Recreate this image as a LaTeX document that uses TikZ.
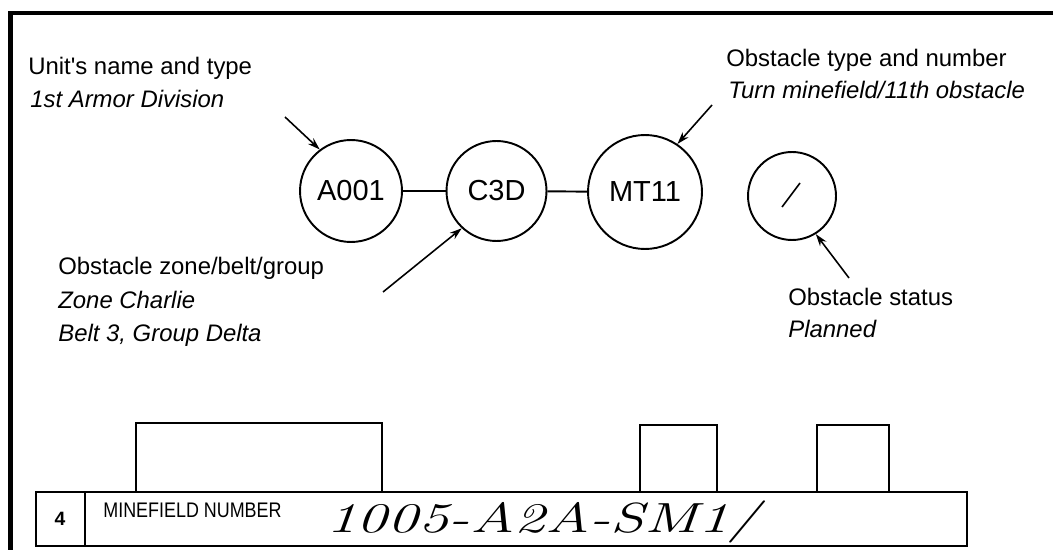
\documentclass[tikz,border=0pt]{standalone}
\usepackage{fontspec}
\usepackage{graphicx}
\newfontfamily\labelfont{Liberation Sans}
\usetikzlibrary{arrows.meta}

\begin{document}
\begin{tikzpicture}[
    x=0.02cm, y=-0.02cm,
    ring/.style={draw, circle, line width=1.1pt, inner sep=0pt,
                 font=\labelfont\fontsize{16.5}{18}\selectfont},
    link/.style={line width=1.1pt},
    pointer/.style={line width=0.9pt, -{Stealth[length=7pt, width=4.5pt]}},
    caption/.style={anchor=base west, inner sep=0pt,
                    font=\labelfont\fontsize{13.6}{16}\selectfont},
    capsub/.style={caption, font=\labelfont\itshape\fontsize{13.6}{16}\selectfont},
    formline/.style={line width=1.3pt},
]

\useasboundingbox (0,0) rectangle (1053,550);

% ── Frame ───────────────────────────────────────────────────
\draw[line width=2.6pt] (10.5,550) |- (1053,13);

% ── Symbol circles ──────────────────────────────────────────
\node[ring, minimum size=2.04cm] (unit)   at (351,191)   {A001};
\node[ring, minimum size=2.0cm]  (zone)   at (496.5,191) {C3D};
\node[ring, minimum size=2.28cm] (obst)   at (645,192)   {MT11};
\node[ring, minimum size=1.76cm] (status) at (792,196)   {};

\draw[link] (unit) -- (zone);
\draw[link] (zone) -- (obst);

% status mark: planned
\draw[line width=0.9pt] ([shift={(-10,11)}]status.center)
    -- ([shift={(8,-13)}]status.center);

% ── Pointers ────────────────────────────────────────────────
\coordinate (unittail)   at (285,117);
\coordinate (zonetail)   at (383,292);
\coordinate (obsttail)   at (712,105);
\coordinate (statustail) at (849,278);

\draw[pointer] (unittail)   -- (unit.127);
\draw[pointer] (zonetail)   -- (zone.227);
\draw[pointer] (obsttail)   -- (obst.56);
\draw[pointer] (statustail) -- (status.302);

% ── Captions ────────────────────────────────────────────────
\node[caption] (unitlbl)   at (28,75)  {Unit's name and type};
\node[capsub]  (unitval)   at (30,108) {1st Armor Division};

\node[caption] (obstlbl)   at (726,67) {Obstacle type and number};
\node[capsub]  (obstval)   at (728,99) {Turn minefield/11th obstacle};

\node[caption] (zonelbl)   at (58,275) {Obstacle zone/belt/group};
\node[capsub]  (zoneval)   at (58,308) {Zone Charlie};
\node[capsub]  (zonegrp)   at (58,341) {Belt 3, Group Delta};

\node[caption] (statuslbl) at (788,305) {Obstacle status};
\node[capsub]  (statusval) at (788,337) {Planned};

% ── Minefield record strip ──────────────────────────────────
\draw[formline] (136,492) |- (382,423) -- (382,492);
\draw[formline] (640,492) |- (717,425) -- (717,492);
\draw[formline] (817,492) |- (889,425) -- (889,492);

\draw[formline] (36,492) rectangle (967,546);
\draw[formline] (85,492) -- (85,546);

\node[font=\labelfont\bfseries\fontsize{11}{13}\selectfont] (boxno) at (60,519) {4};
\node[anchor=west, inner sep=0pt, font=\labelfont\fontsize{12}{14}\selectfont]
    (fieldlbl) at (103,510) {\scalebox{0.85}[1]{MINEFIELD NUMBER}};
\node[anchor=west, inner sep=0pt, font=\itshape\fontsize{24}{28}\selectfont]
    (fieldno) at (326,522) {\scalebox{1.45}[1]{1005-A2A-SM1/}};

\end{tikzpicture}
\end{document}
